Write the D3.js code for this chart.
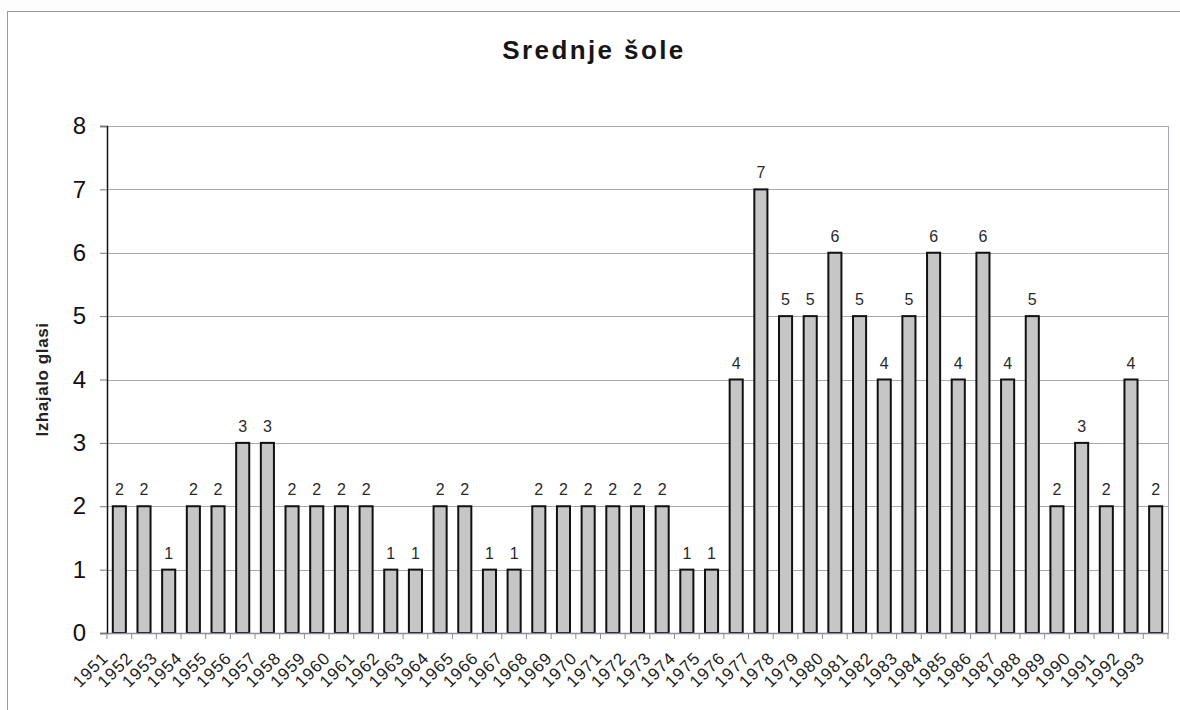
<!DOCTYPE html>
<html>
<head>
<meta charset="utf-8">
<script src="https://cdn.jsdelivr.net/npm/d3@7"></script>
<style>
  html, body { margin: 0; padding: 0; background: #fdfdfd; }
  svg { display: block; font-family: "Liberation Sans", Arial, sans-serif; }
</style>
</head>
<body>
<div id="chart"></div>
<script>
// Data
const years = [1951, 1952, 1953, 1954, 1955, 1956, 1957, 1958, 1959, 1960,
  1961, 1962, 1963, 1964, 1965, 1966, 1967, 1968, 1969, 1970,
  1971, 1972, 1973, 1974, 1975, 1976, 1977, 1978, 1979, 1980,
  1981, 1982, 1983, 1984, 1985, 1986, 1987, 1988, 1989, 1990,
  1991, 1992, 1993];
const issues = [2, 2, 1, 2, 2, 3, 3, 2, 2, 2,
  2, 1, 1, 2, 2, 1, 1, 2, 2, 2,
  2, 2, 2, 1, 1, 4, 7, 5, 5, 6,
  5, 4, 5, 6, 4, 6, 4, 5, 2, 3,
  2, 4, 2];
const yTicks = [0, 1, 2, 3, 4, 5, 6, 7, 8];
const chartTitle = 'Srednje šole';
const yTitle = 'Izhajalo glasi';

const width = 1180;
const height = 710;
const margin = { left: 107, right: 12, top: 126, bottom: 77 };

const svg = d3.select('#chart').append('svg')
  .attr('width', width)
  .attr('height', height);

// Outer chart frame
svg.append('rect')
  .attr('x', 7.5)
  .attr('y', 11.5)
  .attr('width', width - 7)
  .attr('height', height - 6)
  .attr('fill', '#fff')
  .attr('stroke', '#9a9a9a')
  .attr('stroke-width', 1);

const x = d3.scaleBand()
  .domain(years)
  .range([margin.left, width - margin.right])
  .paddingInner(0.47)
  .paddingOuter(0.235);

const y = d3.scaleLinear()
  .domain([0, 8])
  .range([height - margin.bottom, margin.top]);

// Gridlines
svg.append('g')
  .selectAll('line')
  .data(yTicks.filter(d => d > 0))
  .join('line')
  .attr('x1', margin.left)
  .attr('x2', width - margin.right)
  .attr('y1', d => Math.round(y(d)) + 0.5)
  .attr('y2', d => Math.round(y(d)) + 0.5)
  .attr('stroke', '#a9a9b4')
  .attr('stroke-width', 1);

// Plot area right border
svg.append('line')
  .attr('x1', width - margin.right + 0.5)
  .attr('x2', width - margin.right + 0.5)
  .attr('y1', margin.top)
  .attr('y2', height - margin.bottom)
  .attr('stroke', '#a9a9b4');

// Bars
svg.append('g')
  .selectAll('rect')
  .data(years)
  .join('rect')
  .attr('x', d => x(d))
  .attr('y', (d, i) => y(issues[i]))
  .attr('width', x.bandwidth())
  .attr('height', (d, i) => y(0) - y(issues[i]))
  .attr('fill', '#c6c6c6')
  .attr('stroke', '#111')
  .attr('stroke-width', 2);

// Value labels
svg.append('g')
  .selectAll('text')
  .data(years)
  .join('text')
  .attr('x', d => x(d) + x.bandwidth() / 2)
  .attr('y', (d, i) => y(issues[i]) - 11)
  .attr('text-anchor', 'middle')
  .attr('font-size', 16)
  .attr('fill', '#2a2a2a')
  .text((d, i) => issues[i]);

// Y axis
const yAxis = d3.axisLeft(y)
  .tickValues(yTicks)
  .tickSize(7)
  .tickPadding(14);

svg.append('g')
  .attr('transform', `translate(${margin.left}, 0)`)
  .call(yAxis)
  .call(g => g.select('.domain').attr('stroke', '#111').attr('stroke-width', 1.5))
  .call(g => g.selectAll('.tick line').attr('stroke', '#777'))
  .call(g => g.selectAll('.tick text')
    .attr('font-size', 24)
    .attr('fill', '#111')
    .attr('font-family', '"Liberation Sans", Arial, sans-serif'));

// X axis
const step = x.step();
const xAxis = d3.axisBottom(x)
  .tickSize(0)
  .tickFormat(d => d);

const xg = svg.append('g')
  .attr('transform', `translate(0, ${height - margin.bottom})`)
  .call(xAxis)
  .call(g => g.select('.domain').attr('stroke', '#8c8c9a').attr('stroke-width', 1.5));

xg.selectAll('.tick text')
  .attr('font-size', 17)
  .attr('letter-spacing', 1)
  .attr('fill', '#222')
  .attr('font-family', '"Liberation Sans", Arial, sans-serif')
  .attr('text-anchor', 'end')
  .attr('dy', null)
  .attr('y', null)
  .attr('transform', 'translate(-10, 26) rotate(-45)');

// Category boundary ticks
xg.append('g')
  .selectAll('line')
  .data(d3.range(years.length + 1))
  .join('line')
  .attr('x1', i => margin.left + i * step)
  .attr('x2', i => margin.left + i * step)
  .attr('y1', 0)
  .attr('y2', 6)
  .attr('stroke', '#8c8c9a');

// Title
svg.append('text')
  .attr('x', 594)
  .attr('y', 59)
  .attr('text-anchor', 'middle')
  .attr('font-size', 26)
  .attr('font-weight', 'bold')
  .attr('letter-spacing', 2.4)
  .attr('fill', '#161616')
  .text(chartTitle);

// Y axis title
svg.append('text')
  .attr('transform', `translate(48, ${(margin.top + height - margin.bottom) / 2}) rotate(-90)`)
  .attr('text-anchor', 'middle')
  .attr('font-size', 17)
  .attr('font-weight', 'bold')
  .attr('letter-spacing', 0.6)
  .attr('fill', '#222')
  .text(yTitle);
</script>
</body>
</html>
